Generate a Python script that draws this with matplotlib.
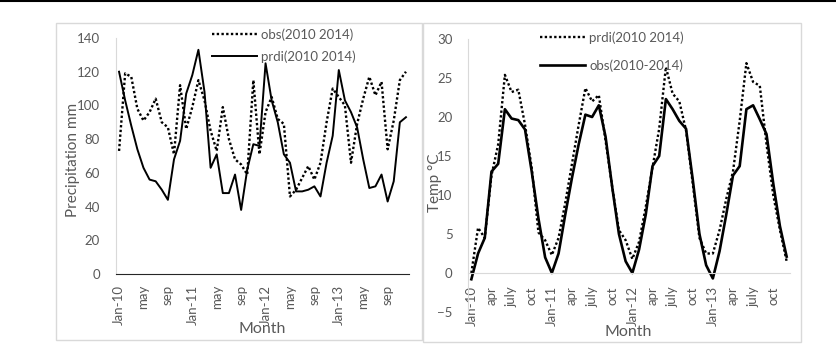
import numpy as np
import matplotlib.pyplot as plt
from matplotlib.patches import Rectangle
from matplotlib.lines import Line2D

plt.rcParams['font.family'] = ['Lato', 'DejaVu Sans']

W, H = 837, 350

# monthly precipitation (mm), Jan-2010 .. Dec-2013
precip_obs = [73, 119, 117, 98, 91, 96, 104, 90, 87, 71, 112, 86,
              99, 115, 103, 85, 73, 99, 80, 68, 65, 59, 115, 71,
              96, 105, 92, 89, 46, 50, 57, 64, 56, 66, 90, 110,
              105, 100, 66, 89, 104, 117, 106, 114, 74, 91, 115, 120]
precip_prdi = [120, 103, 88, 74, 63, 56, 55, 50, 44, 68, 79, 107,
               118, 133, 108, 63, 71, 48, 48, 59, 38, 62, 77, 76,
               125, 103, 90, 71, 66, 49, 49, 50, 52, 46, 66, 82,
               121, 103, 96, 87, 68, 51, 52, 59, 43, 55, 90, 93]
precip_ticks = ["Jan-10", "may", "sep", "Jan-11", "may", "sep",
                "Jan-12", "may", "sep", "Jan-13", "may", "sep"]

# monthly mean temperature (deg C), Jan-2010 .. Dec-2013
temp_prdi = [0, 5.8, 4.5, 12.5, 16.5, 25.4, 23.2, 23.5, 19, 13.5, 5.2, 4.2,
             2.3, 4.5, 9, 14, 19, 23.7, 22, 22.8, 17, 11, 5.5, 4.2,
             1.8, 4, 8.5, 13.5, 18.5, 26.4, 23, 22, 18.3, 11.5, 4.5, 2.5,
             2.5, 5.5, 9.5, 13, 19.5, 26.9, 24.5, 24, 16.5, 10, 5.5, 1.5]
temp_obs = [-0.8, 2.5, 4.5, 13, 14, 21, 19.8, 19.6, 18.4, 13, 7, 2,
            0, 2.5, 7.5, 12.2, 16.5, 20.3, 20, 21.5, 17.5, 11, 5, 1.5,
            0, 3, 7.5, 13.7, 15, 22.3, 21, 19.5, 18.5, 12, 5, 1,
            -0.7, 2.8, 7.5, 12.5, 13.7, 21, 21.5, 19.7, 17.8, 11.5, 6, 2.1]
temp_ticks = ["Jan-10", "apr", "july", "oct", "Jan-11", "apr", "july", "oct",
              "Jan-12", "apr", "july", "oct", "Jan-13", "apr", "july", "oct"]

GRAY = '#595959'
DOTS = (0, (1, 1))


def box(l, t, r, b):
    # pixel box (from top-left) -> figure fraction rect
    return [l / W, 1 - b / H, (r - l) / W, (b - t) / H]


def fx(x):
    return x / W


def fy(y):
    return 1 - y / H


fig = plt.figure(figsize=(W / 100, H / 100), dpi=100)

# panel frames and rule at the top
for l, t, r, b in [(56, 23, 422, 340), (423, 23, 801, 342)]:
    fig.add_artist(Rectangle((fx(l), fy(b)), (r - l) / W, (b - t) / H,
                             transform=fig.transFigure, fill=False,
                             edgecolor='#d9d9d9', lw=1))
fig.add_artist(Line2D([0, 1], [fy(1), fy(1)], transform=fig.transFigure,
                      color='black', lw=1.5))

# (a) precipitation
ax1 = fig.add_axes(box(116, 38, 409, 274))
m1 = np.arange(len(precip_obs))
ax1.plot(m1, precip_obs, color='black', lw=1.7, linestyle=DOTS, label='obs(2010 2014)')
ax1.plot(m1, precip_prdi, color='black', lw=1.4, label='prdi(2010 2014)')
ax1.set_xlim(-0.5, len(m1) - 0.5)
ax1.set_ylim(0, 140)
ax1.set_yticks(range(0, 141, 20))
ax1.set_xticks(m1[::4])
ax1.set_xticklabels(precip_ticks, rotation=90, va='top', ha='center')
ax1.tick_params(axis='y', length=0, labelsize=9.5, colors=GRAY, pad=11.5)
ax1.tick_params(axis='x', length=0, labelsize=9.5, colors=GRAY, pad=8)
for s in ['top', 'right']:
    ax1.spines[s].set_visible(False)
ax1.spines['left'].set_color('#d9d9d9')
ax1.spines['bottom'].set_color('#262626')
ax1.patch.set_alpha(0)
ax1.legend(loc='upper left', bbox_to_anchor=(fx(212), fy(28)),
           bbox_transform=fig.transFigure, frameon=False, fontsize=9.5,
           handlelength=3.4, handletextpad=0.35, labelspacing=0.75,
           borderpad=0, borderaxespad=0, labelcolor=GRAY)
fig.text(fx(73), fy(160), 'Precipitation mm', rotation=90, ha='center',
         va='center', fontsize=11, color=GRAY)
fig.text(fx(262), fy(329), 'Month', ha='center', va='center',
         fontsize=11.5, color=GRAY)

# (b) temperature
ax2 = fig.add_axes(box(468, 39, 790, 312))
ax2.spines['bottom'].set_position(('data', 0))
m2 = np.arange(len(temp_obs))
ax2.plot(m2, temp_prdi, color='black', lw=1.7, linestyle=DOTS, label='prdi(2010 2014)')
ax2.plot(m2, temp_obs, color='black', lw=1.9, label='obs(2010-2014)')
ax2.set_xlim(-0.5, len(m2) - 0.5)
ax2.set_ylim(-5, 30)
ax2.set_yticks(range(-5, 31, 5))
ax2.set_xticks(m2[::3])
ax2.set_xticklabels(temp_ticks, rotation=90, va='top', ha='center')
ax2.tick_params(axis='y', length=0, labelsize=9.5, colors=GRAY, pad=11)
ax2.tick_params(axis='x', length=0, labelsize=9.5, colors=GRAY, pad=9.5)
for s in ['top', 'right']:
    ax2.spines[s].set_visible(False)
ax2.spines['left'].set_color('#d9d9d9')
ax2.spines['bottom'].set_color('#d9d9d9')
ax2.patch.set_alpha(0)
ax2.legend(loc='upper left', bbox_to_anchor=(fx(540), fy(31)),
           bbox_transform=fig.transFigure, frameon=False, fontsize=9.5,
           handlelength=3.4, handletextpad=0.35, labelspacing=1.2,
           borderpad=0, borderaxespad=0, labelcolor=GRAY)
fig.text(fx(435), fy(183), 'Temp °C', rotation=90, ha='center',
         va='center', fontsize=11, color=GRAY)
fig.text(fx(628), fy(332), 'Month', ha='center', va='center',
         fontsize=11.5, color=GRAY)

fig.savefig('out.png', dpi=100)
